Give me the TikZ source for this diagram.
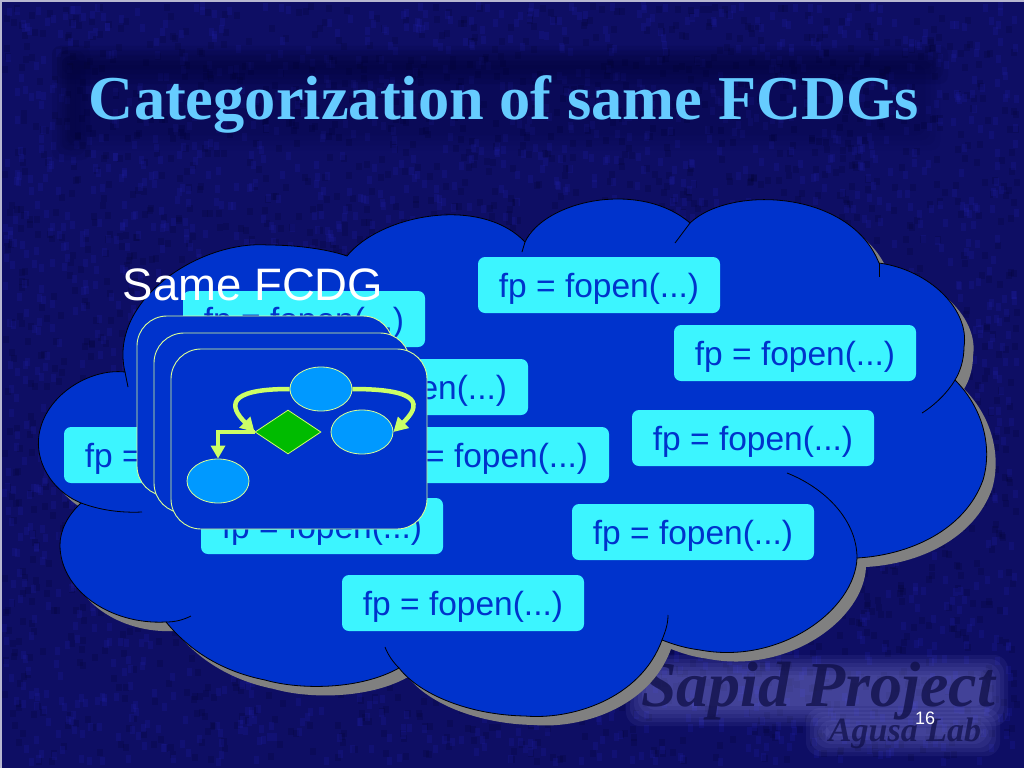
\documentclass[tikz,border=0pt]{standalone}
\usepackage{fontspec}
\setmainfont{Liberation Sans}
\newfontfamily\titlefont{Liberation Serif}
\usetikzlibrary{arrows.meta,shapes.geometric}
\definecolor{slidebg}{RGB}{14,14,100}
\definecolor{speckdark}{RGB}{4,4,50}
\definecolor{specklight}{RGB}{30,30,165}
\definecolor{cloudblue}{RGB}{0,51,204}
\definecolor{boxcyan}{RGB}{60,245,255}
\definecolor{titleblue}{RGB}{102,204,255}
\definecolor{limeline}{RGB}{204,255,102}
\definecolor{stateblue}{RGB}{0,153,255}
\definecolor{decisiongreen}{RGB}{0,187,0}
\definecolor{markink}{RGB}{14,14,70}
\tikzset{
	fopenbox/.style={rectangle, rounded corners=7pt, fill=boxcyan, text=cloudblue, minimum width=242pt, minimum height=56pt, inner sep=0pt, text height=25pt, text depth=0pt, font=\fontsize{33.5}{36}\selectfont},
	card/.style={draw=limeline!70!white, line width=0.9pt, fill=cloudblue, rounded corners=30pt},
	statenode/.style={ellipse, draw=limeline!70!white, line width=0.8pt, fill=stateblue, minimum width=62pt, minimum height=44pt, inner sep=0pt},
	decisionnode/.style={diamond, draw=limeline, line width=0.8pt, fill=decisiongreen, minimum width=66pt, minimum height=44pt, inner sep=0pt},
	flowline/.style={draw=limeline, line width=4.5pt, -{Triangle[length=14pt,width=15pt]}},
	cloudedge/.style={black, line width=0.8pt},
}
\def\cloudoutline{(125,372) .. controls (108,300) and (200,240) .. (268,245) .. controls (300,245) and (330,250) .. (347,256)
	.. controls (380,215) and (480,195) .. (525,242) .. controls (545,200) and (640,180) .. (690,223)
	.. controls (730,185) and (850,190) .. (879,263) .. controls (930,270) and (970,310) .. (964,347) .. controls (964,360) and (960,372) .. (955,380)
	.. controls (985,410) and (992,450) .. (983,480) .. controls (965,530) and (910,555) .. (857,558)
	.. controls (855,610) and (780,665) .. (700,650) .. controls (685,648) and (675,645) .. (662,640)
	.. controls (640,700) and (570,720) .. (525,716) .. controls (470,715) and (420,695) .. (399,668)
	.. controls (360,690) and (300,690) .. (265,680) .. controls (215,670) and (185,645) .. (166,622)
	.. controls (110,625) and (60,590) .. (60,545) .. controls (60,530) and (68,515) .. (81,503)
	.. controls (50,490) and (35,460) .. (39,435) .. controls (45,395) and (90,368) .. (125,372) -- cycle}
\begin{document}
\begin{tikzpicture}[x=1pt,y=-1pt]
	\useasboundingbox (0,0) rectangle (1024,768);
	\fill[white!70!slidebg] (0,0) rectangle (1024,768);
	\fill[slidebg] (2,2) rectangle (1024,768);
	% mottled backdrop
	\pgfmathsetseed{4711}
	\begin{scope}[fill=speckdark, fill opacity=0.22]
		\foreach \i in {1,...,2600}{
			\pgfmathsetmacro{\px}{random(2,1014)}
			\pgfmathsetmacro{\py}{random(2,758)}
			\fill (\px,\py) rectangle ++(6,7);
		}
	\end{scope}
	\begin{scope}[fill=specklight, fill opacity=0.24]
		\foreach \i in {1,...,2600}{
			\pgfmathsetmacro{\px}{random(2,1014)}
			\pgfmathsetmacro{\py}{random(2,758)}
			\fill (\px,\py) rectangle ++(5,8);
		}
	\end{scope}
	% title shade
	\foreach \g in {0,5,10,15}{
		\fill[speckdark, opacity=0.11, rounded corners=8pt] (52+\g,46+\g) rectangle (948-\g,84-\g);
		\fill[speckdark, opacity=0.11, rounded corners=8pt] (52+\g,46+\g) rectangle (90-\g,160-\g);
		\fill[speckdark, opacity=0.06, rounded corners=8pt] (60+\g,50+\g) rectangle (940-\g,150-\g);
	}
	% watermark
	\foreach \g in {0,4,8,12,16,20}{
		\fill[blue!35!white, opacity=0.07, rounded corners=14pt] (626+\g,655+\g) rectangle (1008-\g,726-\g);
		\fill[blue!35!white, opacity=0.07, rounded corners=14pt] (806+\g,708+\g) rectangle (1000-\g,756-\g);
	}
	\node[font=\titlefont\bfseries\itshape\fontsize{64}{68}\selectfont, text=markink, opacity=0.75] (projectmark) at (818,691) {Sapid Project};
	\node[font=\titlefont\bfseries\itshape\fontsize{34}{36}\selectfont, text=markink, opacity=0.7] (labmark) at (905,733) {Agusa Lab};
	\node[font=\titlefont\bfseries\fontsize{62.4}{66}\selectfont, text=titleblue] (slidetitle) at (504,104) {Categorization of same FCDGs};

	% cloud
	\fill[black!50, shift={(9,9)}] \cloudoutline;
	\draw[cloudedge, fill=cloudblue] \cloudoutline;
	\draw[cloudedge] (125,372) -- (128,387);
	\draw[cloudedge] (525,242) -- (522,252);
	\draw[cloudedge] (690,223) -- (675,243);
	\draw[cloudedge] (879,263) -- (879,277);
	\draw[cloudedge] (955,380) .. controls (948,392) and (935,405) .. (922,413);
	\draw[cloudedge] (857,558) .. controls (857,520) and (825,488) .. (787,473);
	\draw[cloudedge] (662,640) .. controls (665,632) and (668,625) .. (668,615);
	\draw[cloudedge] (399,668) .. controls (393,662) and (388,655) .. (385,647);
	\draw[cloudedge] (166,622) .. controls (175,622) and (183,620) .. (191,616);
	\draw[cloudedge] (81,503) .. controls (100,510) and (120,513) .. (142,512);

	% boxes
	\foreach \nm/\bx/\by in {fopena/599/285, fopenb/304/319, fopenc/795/353, fopend/407/387, fopene/753/438, fopenf/185/455, fopeng/488/455, fopenh/693/532, fopeni/322/526, fopenj/463/603}{
		\node[fopenbox] (\nm) at (\bx,\by) {fp = fopen(...)};
	}

	\node[text=white, font=\fontsize{45.5}{48}\selectfont] (samelabel) at (253,285) {Same FCDG};

	% stack of cards
	\draw[card] (137,316) rectangle (393,496);
	\draw[card] (154,333) rectangle (410,513);
	\draw[card] (171,349) rectangle (427,529);

	\node[statenode] (topstate) at (321,389) {};
	\node[statenode] (rightstate) at (362,432) {};
	\node[statenode] (leafstate) at (218,481) {};
	\node[decisionnode] (decision) at (288,432) {};

	\draw[flowline] (topstate.west) .. controls +(-65,0) and +(-25,-25) .. (decision.west);
	\draw[flowline] (topstate.east) .. controls +(70,0) and +(28,-27) .. (rightstate.east);
	\draw[flowline, -{Triangle[length=13pt,width=14pt]}] (decision.west) -| (leafstate.north);

	\node[text=white, font=\fontsize{18}{20}\selectfont] (pagenum) at (925,718) {16};
\end{tikzpicture}
\end{document}
